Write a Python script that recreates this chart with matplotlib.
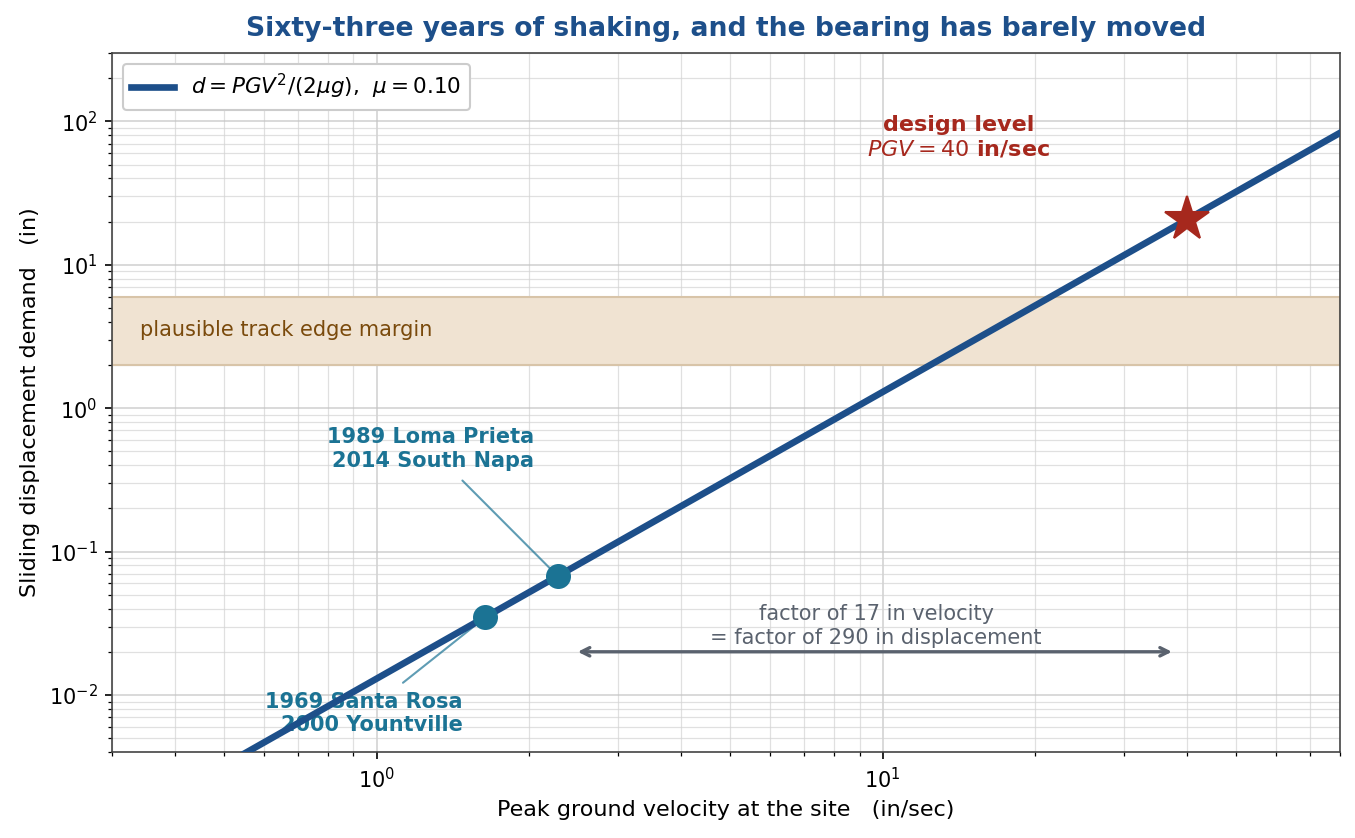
import matplotlib
matplotlib.use("Agg")
import matplotlib.pyplot as plt

# demand line endpoints, d = PGV^2 / (2 mu g), mu = 0.10, g = 386 in/s^2
line_pgv = [0.3, 80.0]
line_disp = [0.00117, 82.9]

# historic earthquakes at the site
quake_pgv = [1.64, 2.28]
quake_disp = [0.0348, 0.0673]

design_pgv = 40.0
design_disp = 20.7

margin_low, margin_high = 2.0, 6.0

arrow_from, arrow_to, arrow_y = 2.45, 38.0, 0.02

BLUE = "#1d4f8a"
TEAL = "#1b7394"
RED = "#a6281d"
GREY = "#5a626e"

fig = plt.figure(figsize=(9.04, 5.587), dpi=150)
ax = fig.add_axes([0.0826, 0.1026, 0.9054, 0.8342])
ax.set_xscale("log")
ax.set_yscale("log")

ax.axhspan(margin_low, margin_high, facecolor="#f0e3d2", edgecolor="#d8c4a8", lw=1.0, zorder=1)
ax.text(0.34, 3.5, "plausible track edge margin", color="#7a4a0c", fontsize=10,
        va="center", ha="left", zorder=2)

ax.plot(line_pgv, line_disp, color=BLUE, lw=3.2, zorder=4,
        label=r"$d = PGV^2/(2\mu g)$,  $\mu = 0.10$")

ax.annotate("1989 Loma Prieta\n2014 South Napa", xy=(quake_pgv[1], quake_disp[1]),
            xytext=(2.05, 0.52), ha="right", va="center", fontsize=10, fontweight="bold",
            color=TEAL, zorder=3,
            arrowprops=dict(arrowstyle="-", color=TEAL, alpha=0.7, lw=1.0, shrinkA=4, shrinkB=4))
ax.annotate("1969 Santa Rosa\n2000 Yountville", xy=(quake_pgv[0], quake_disp[0]),
            xytext=(1.48, 0.0074), ha="right", va="center", fontsize=10, fontweight="bold",
            color=TEAL, zorder=3,
            arrowprops=dict(arrowstyle="-", color=TEAL, alpha=0.7, lw=1.0, shrinkA=4, shrinkB=4))

ax.plot(quake_pgv, quake_disp, "o", color=TEAL, ms=11, zorder=5)
ax.plot([design_pgv], [design_disp], "*", color=RED, ms=22, zorder=6)

ax.text(14.1, 78, "design level\n$PGV = 40$ in/sec", color=RED, fontsize=10.7,
        fontweight="bold", ha="center", va="center")

ax.annotate("", xy=(arrow_to, arrow_y), xytext=(arrow_from, arrow_y),
            arrowprops=dict(arrowstyle="<->", color=GREY, lw=1.6))
ax.text(9.7, 0.0214, "factor of 17 in velocity\n= factor of 290 in displacement",
        color=GREY, fontsize=10, ha="center", va="bottom")

ax.set_xlim(0.3, 80)
ax.set_ylim(0.004, 300)
ax.grid(which="major", color="#c4c4c4", lw=0.8, alpha=0.75)
ax.grid(which="minor", color="#d4d4d4", lw=0.6, alpha=0.7)
ax.set_axisbelow(True)
for s in ax.spines.values():
    s.set_color("#444444")

ax.set_xlabel("Peak ground velocity at the site   (in/sec)", fontsize=10.7)
ax.set_ylabel("Sliding displacement demand   (in)", fontsize=10.7)
ax.set_title("Sixty-three years of shaking, and the bearing has barely moved",
             fontsize=12.8, fontweight="bold", color=BLUE, pad=8)
ax.legend(loc="upper left", fontsize=10.3, framealpha=1.0)

fig.savefig("out.png", dpi=150)
